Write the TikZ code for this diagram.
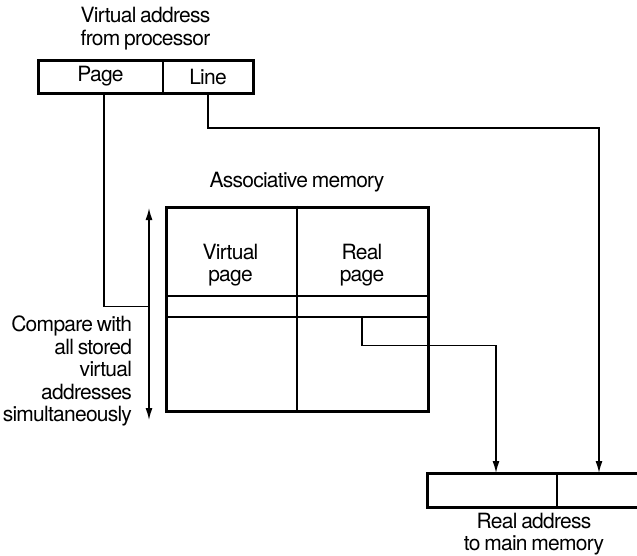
\documentclass[tikz,border=0pt]{standalone}
\usepackage{fontspec}
\setmainfont{TeX Gyre Heros}[LetterSpace=-3.5, WordSpace=0.75]
\usetikzlibrary{arrows.meta, positioning, fit}

\begin{document}
\begin{tikzpicture}[x=1pt, y=-1pt,
  font=\fontsize{21}{22.5}\selectfont,
  cell/.style={draw, line width=1.4pt, inner sep=0pt, outer sep=0pt, minimum height=33},
  regframe/.style={draw, line width=3pt, inner sep=0pt, fit=#1},
  wire/.style={line width=1.4pt},
  arr/.style={wire, -{Latex[length=12pt, width=7pt]}}]
  \useasboundingbox (0,0) rectangle (637,555);
  % virtual address register
  \node[cell, minimum width=125] (page) at (100.5,76.5) {Page};
  \node[cell, minimum width=90, right=0pt of page] (line) {Line};
  \node[regframe={(page)(line)}] (vaddr) {};
  \node[align=center, above=5pt of vaddr] (vtitle) {Virtual address\\from processor};
  % associative memory
  \node[draw, line width=3pt, inner sep=0pt, minimum width=262, minimum height=204] (assoc) at (297,309) {};
  \node[above=10pt of assoc] (atitle) {Associative memory};
  \node[draw, line width=1.4pt, inner sep=0pt, minimum width=262, minimum height=21] (row) at (297,306.5) {};
  \draw[wire] (assoc.north) -- (assoc.south);
  \node[align=center] (vpg) at (230.5,265) {Virtual\\page};
  \node[align=center] (rpg) at (362,265) {Real\\page};
  % compare arrow
  \coordinate (ctop) at (149,208);
  \coordinate (cbot) at (149,420);
  \draw[wire, {Latex[length=12pt, width=7pt]}-{Latex[length=12pt, width=7pt]}] (ctop) -- (cbot);
  \node[anchor=east, align=right] (cmp) at (135.5,371) {Compare with\\all stored\\virtual\\addresses\\simultaneously};
  % real address register
  \node[cell, minimum width=130, minimum height=34] (rframe) at (492,490) {};
  \node[cell, minimum width=84, minimum height=34, right=0pt of rframe] (roff) {};
  \node[regframe={(rframe)(roff)}] (raddr) {};
  \node[align=center, below=1pt of raddr] (rtitle) {Real address\\to main memory};
  % connections
  \draw[wire] ([xshift=3.5pt]page.south) |- (ctop |- row);
  \draw[arr] (line.south) -- ++(0,35) -| (roff.north);
  \draw[arr] (rpg |- row.south) -- ++(0,28) -| ([xshift=4pt]rframe.north);
\end{tikzpicture}
\end{document}
